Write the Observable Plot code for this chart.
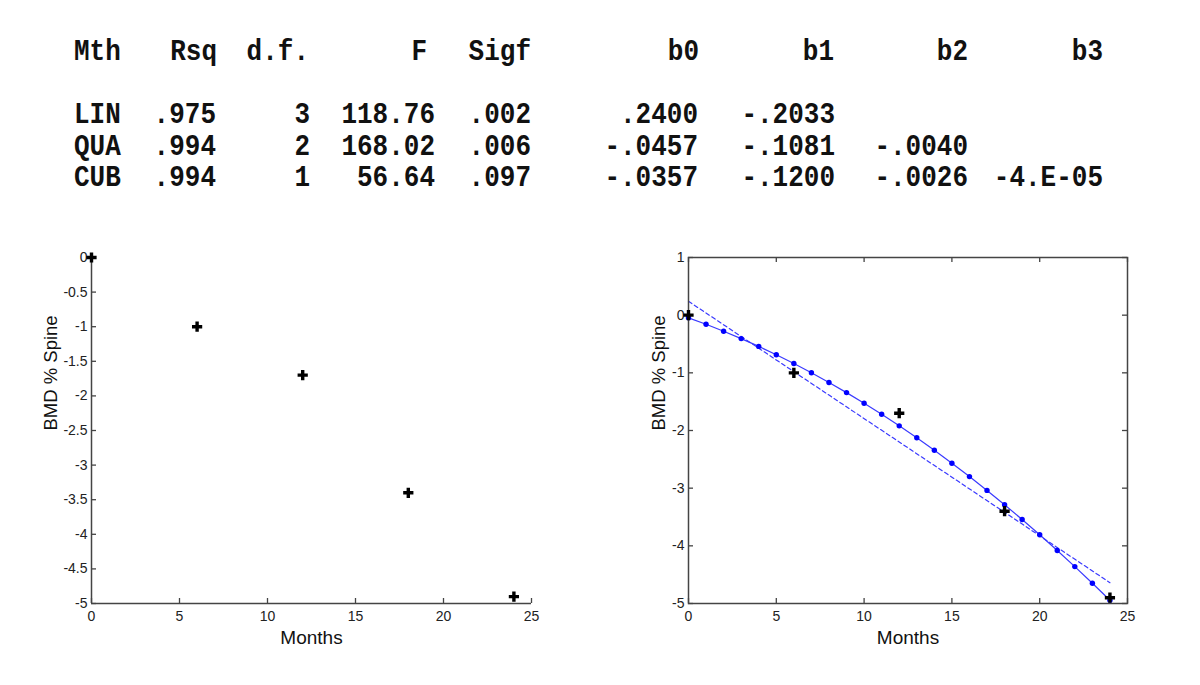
<!DOCTYPE html>
<html>
<head>
<meta charset="utf-8">
<script src="https://cdn.jsdelivr.net/npm/d3@7"></script>
<script src="https://cdn.jsdelivr.net/npm/@observablehq/plot@0.6"></script>
<style>
  html, body { margin: 0; padding: 0; background: #fff; }
  #page { position: relative; width: 1200px; height: 685px; overflow: hidden; }
  #table { position: absolute; left: 0; top: 0; }
  #left { position: absolute; left: 0; top: 230px; }
  #right { position: absolute; left: 600px; top: 230px; }
</style>
</head>
<body>
<div id="page">
  <svg id="table" width="1200" height="210"></svg>
  <div id="left"></div>
  <div id="right"></div>
</div>
<script>
// ---- Table data ----
const headers = ["Mth", "Rsq", "d.f.", "F", "Sigf", "b0", "b1", "b2", "b3"];
const methods = ["LIN", "QUA", "CUB"];
const rsq = [".975", ".994", ".994"];
const df = ["3", "2", "1"];
const fStat = ["118.76", "168.02", "56.64"];
const sigf = [".002", ".006", ".097"];
const b0 = [".2400", "-.0457", "-.0357"];
const b1 = ["-.2033", "-.1081", "-.1200"];
const b2 = ["", "-.0040", "-.0026"];
const b3 = ["", "", "-4.E-05"];

// ---- Chart data ----
const months = [0, 6, 12, 18, 24];
const bmd = [0, -1, -1.7, -3.4, -4.9];
const fitMonths = [0,1,2,3,4,5,6,7,8,9,10,11,12,13,14,15,16,17,18,19,20,21,22,23,24];
const quadFit = [-0.046,-0.158,-0.278,-0.406,-0.542,-0.686,-0.838,-0.998,-1.167,-1.343,-1.527,-1.719,-1.919,-2.127,-2.343,-2.567,-2.799,-3.039,-3.288,-3.544,-3.808,-4.080,-4.360,-4.648,-4.944];
const linMonths = [0, 24];
const linFit = [0.24, -4.639];
const xTicks = [0, 5, 10, 15, 20, 25];
const yTicksLeft = [0, -0.5, -1, -1.5, -2, -2.5, -3, -3.5, -4, -4.5, -5];
const yTicksRight = [1, 0, -1, -2, -3, -4, -5];
const xLabel = "Months";
const yLabel = "BMD % Spine";

// ---- Table drawing ----
const cols = [
  {h: headers[0], v: methods, hx: 74, vx: 74, anchor: "start"},
  {h: headers[1], v: rsq, hx: 217, vx: 216, anchor: "end"},
  {h: headers[2], v: df, hx: 309, vx: 310, anchor: "end"},
  {h: headers[3], v: fStat, hx: 427, vx: 435, anchor: "end"},
  {h: headers[4], v: sigf, hx: 531, vx: 531, anchor: "end"},
  {h: headers[5], v: b0, hx: 699, vx: 698, anchor: "end"},
  {h: headers[6], v: b1, hx: 834, vx: 835, anchor: "end"},
  {h: headers[7], v: b2, hx: 968, vx: 968, anchor: "end"},
  {h: headers[8], v: b3, hx: 1103, vx: 1103, anchor: "end"}
];
const headerBaseline = 60;
const rowBaselines = [123, 155, 186];
const tsvg = d3.select("#table");
function addText(str, x, y, anchor) {
  if (!str) return;
  tsvg.append("text")
    .attr("transform", `translate(${x},${y}) scale(1,1.1)`)
    .attr("text-anchor", anchor)
    .attr("font-family", "'Liberation Mono', 'Courier New', monospace")
    .attr("font-weight", "bold")
    .attr("font-size", 26)
    .attr("fill", "#111")
    .text(str);
}
cols.forEach(c => {
  addText(c.h, c.hx, headerBaseline, c.anchor);
  c.v.forEach((s, i) => addText(s, c.vx, rowBaselines[i], c.anchor));
});

// ---- Charts ----
const axisColor = "#444";
const font = "'Liberation Sans', Arial, sans-serif";
const W = 580, H = 430;

function chart({marginLeft, marginRight, yDomain, yTicks, box, fits, labelOffset}) {
  const marginTop = 27, marginBottom = 57;
  const plotW = W - marginLeft - marginRight;
  const plotH = H - marginTop - marginBottom;
  const marks = [];
  if (fits) {
    marks.push(Plot.line(linMonths, {x: d => d, y: (d, i) => linFit[i], stroke: "#3a3aff", strokeWidth: 1.2, strokeDasharray: "4,3"}));
    marks.push(Plot.line(fitMonths, {x: d => d, y: (d, i) => quadFit[i], stroke: "#3a3aff", strokeWidth: 1.2}));
    marks.push(Plot.dot(fitMonths, {x: d => d, y: (d, i) => quadFit[i], r: 2.7, fill: "#0000ff", stroke: null}));
  }
  // axis lines
  if (box) {
    marks.push(Plot.frame({stroke: axisColor, strokeWidth: 1.5}));
  } else {
    marks.push(Plot.ruleX([0], {stroke: axisColor, strokeWidth: 1.5}));
    marks.push(Plot.ruleY([yDomain[0]], {stroke: axisColor, strokeWidth: 1.5}));
  }
  // inward ticks
  marks.push(Plot.tickY(yTicks, {y: d => d, insetRight: plotW - 5, stroke: axisColor, strokeWidth: 1.3}));
  marks.push(Plot.tickX(xTicks, {x: d => d, insetTop: plotH - 5, stroke: axisColor, strokeWidth: 1.3}));
  if (box) {
    marks.push(Plot.tickY(yTicks, {y: d => d, insetLeft: plotW - 5, stroke: axisColor, strokeWidth: 1.3}));
    marks.push(Plot.tickX(xTicks, {x: d => d, insetBottom: plotH - 5, stroke: axisColor, strokeWidth: 1.3}));
  }
  // axis labels
  marks.push(Plot.axisY({ticks: yTicks, tickSize: 0, tickPadding: 4, tickFormat: d => String(d), label: null, fontSize: 14, fill: "#222"}));
  marks.push(Plot.axisX({ticks: xTicks, tickSize: 0, tickPadding: 8, tickFormat: d => String(d), label: null, fontSize: 14, fill: "#222"}));
  marks.push(Plot.text([xLabel], {frameAnchor: "bottom", dy: 40, fontSize: 19, fill: "#111", text: d => d}));
  marks.push(Plot.text([yLabel], {frameAnchor: "left", dx: -labelOffset, rotate: -90, fontSize: 18.5, fill: "#111", text: d => d}));
  // data crosses
  marks.push(Plot.dot(months, {x: d => d, y: (d, i) => bmd[i], symbol: "cross", r: 4.3, fill: "#000", stroke: null}));
  return Plot.plot({
    width: W, height: H,
    marginLeft, marginRight, marginTop, marginBottom,
    style: {fontFamily: font, fontSize: "14px", background: "transparent", overflow: "visible"},
    x: {domain: [0, 25]},
    y: {domain: yDomain},
    marks
  });
}

document.getElementById("left").appendChild(chart({
  marginLeft: 91, marginRight: 49, yDomain: [-5, 0], yTicks: yTicksLeft, box: false, fits: false, labelOffset: 40
}));
document.getElementById("right").appendChild(chart({
  marginLeft: 88, marginRight: 53, yDomain: [-5, 1], yTicks: yTicksRight, box: true, fits: true, labelOffset: 29
}));
</script>
</body>
</html>
